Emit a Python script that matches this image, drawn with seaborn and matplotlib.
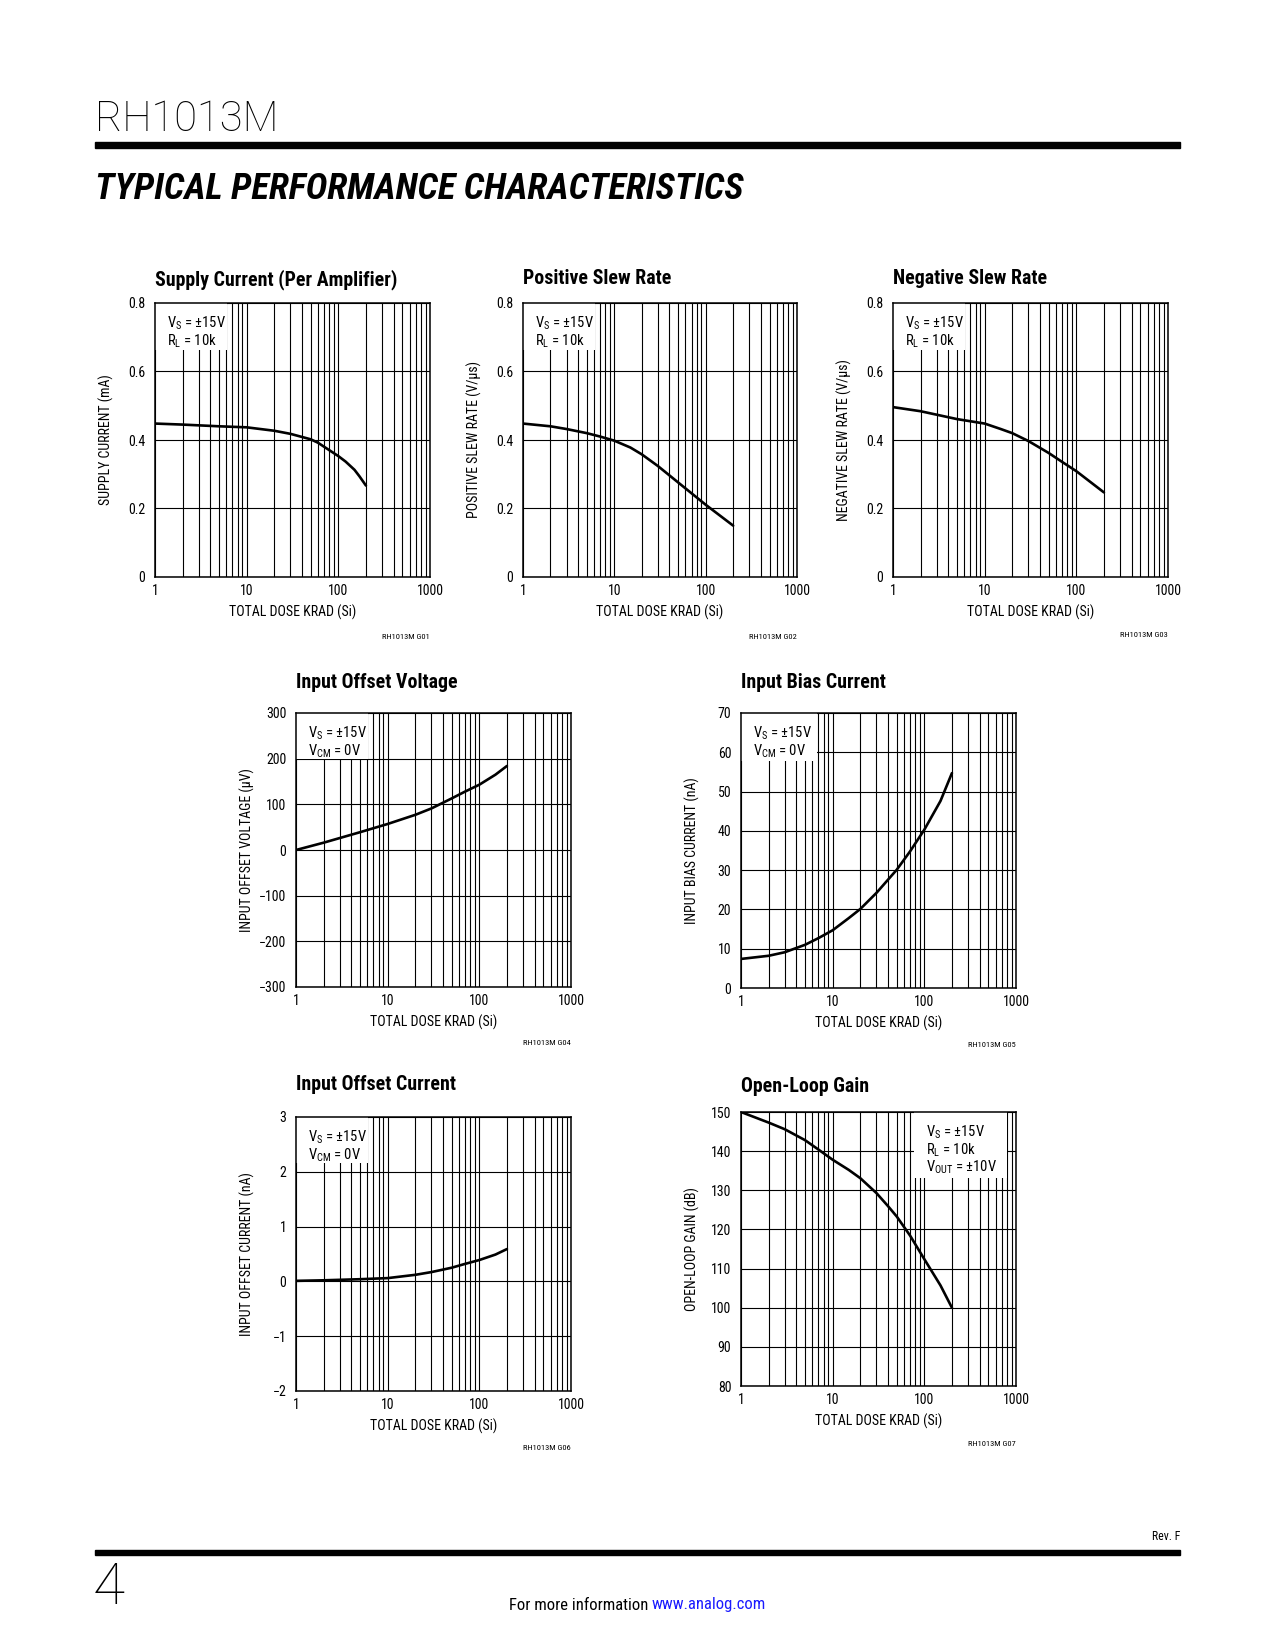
import matplotlib
matplotlib.use("Agg")
import matplotlib.pyplot as plt
from matplotlib import font_manager as fm
from matplotlib.patches import Rectangle
from matplotlib.ticker import LogLocator, NullFormatter
import seaborn as sns

W, H = 1275, 1650

# supply current (per amplifier), mA
dose_isup = [1, 2, 5, 10, 20, 30, 40, 50, 60, 80, 100, 120, 150, 170, 200]
isup = [0.448, 0.445, 0.440, 0.437, 0.427, 0.418, 0.409, 0.402, 0.392, 0.370, 0.353,
        0.337, 0.313, 0.294, 0.267]

# positive slew rate, V/us
dose_psr = [1, 2, 3, 5, 7, 10, 15, 20, 30, 50, 100, 200]
psr = [0.448, 0.440, 0.432, 0.420, 0.410, 0.398, 0.378, 0.358, 0.324, 0.276, 0.211, 0.150]

# negative slew rate, V/us
dose_nsr = [1, 2, 5, 10, 15, 20, 30, 50, 70, 100, 200]
nsr = [0.496, 0.484, 0.461, 0.448, 0.432, 0.420, 0.397, 0.362, 0.336, 0.309, 0.247]

# input offset voltage, uV
dose_vos = [1, 2, 5, 10, 20, 30, 50, 70, 100, 150, 200]
vos = [0, 16, 39, 57, 77, 91, 113, 128, 143, 165, 184]

# input bias current, nA
dose_ib = [1, 2, 3, 5, 7, 10, 15, 20, 30, 50, 70, 100, 150, 200]
ib = [7.4, 8.2, 9.1, 11.0, 12.7, 14.7, 17.8, 20.1, 24.2, 30.1, 34.8, 40.3, 47.6, 54.7]

# input offset current, nA
dose_ios = [1, 2, 5, 10, 20, 30, 50, 70, 100, 150, 200]
ios = [0.01, 0.02, 0.04, 0.06, 0.12, 0.17, 0.25, 0.32, 0.39, 0.49, 0.59]

# open-loop gain, dB
dose_aol = [1, 2, 3, 5, 7, 10, 15, 20, 30, 40, 50, 70, 100, 150, 200]
aol = [150, 147.3, 145.6, 142.8, 140.4, 137.8, 135.2, 133.1, 129.3, 126.0, 123.3, 118.4,
       112.4, 105.7, 100]

sns.set_style("white")
installed = {f.name for f in fm.fontManager.ttflist}


def pick(*names):
    for n in names:
        if n in installed:
            return n
    return "DejaVu Sans"


narrow = pick("Liberation Sans Narrow", "Roboto Condensed", "Archivo Narrow",
              "PT Sans Narrow", "Liberation Sans")
light = pick("Roboto", "Lato")
plt.rcParams["font.family"] = [narrow, "DejaVu Sans"]
plt.rcParams["mathtext.fontset"] = "custom"
plt.rcParams["mathtext.rm"] = narrow
plt.rcParams["mathtext.it"] = narrow
plt.rcParams["text.color"] = "black"
plt.rcParams["axes.labelcolor"] = "black"
plt.rcParams["xtick.color"] = "black"
plt.rcParams["ytick.color"] = "black"

fig = plt.figure(figsize=(W / 100, H / 100), dpi=100)

VS = r"V$_{\rm S}$ = ±15V"
RL = r"R$_{\rm L}$ = 10k"
VCM = r"V$_{\rm CM}$ = 0V"
VOUT = r"V$_{\rm OUT}$ = ±10V"


def chart(box, title, title_y, ylabel, ylim, yticks, ylabels, x, y, note, fig_id, id_y,
          note_box=(0, 72, 0, 47)):
    l, t, r, b = box
    w, h = r - l, b - t
    ax = fig.add_axes([l / W, 1 - b / H, w / W, h / H])
    sns.lineplot(x=x, y=y, ax=ax, color="black", linewidth=1.9)
    ax.set_xscale("log")
    ax.set_xlim(1, 1000)
    ax.set_ylim(*ylim)
    ax.set_xticks([1, 10, 100, 1000], ["1", "10", "100", "1000"])
    ax.xaxis.set_minor_locator(LogLocator(base=10, subs=range(2, 10)))
    ax.xaxis.set_minor_formatter(NullFormatter())
    ax.set_yticks(yticks, ylabels)
    ax.set_axisbelow(True)
    ax.grid(True, which="both", axis="x", color="black", linewidth=0.8)
    ax.grid(True, which="major", axis="y", color="black", linewidth=0.8)
    ax.tick_params(which="both", length=0, labelsize=10)
    ax.tick_params(axis="x", pad=5)
    ax.tick_params(axis="y", pad=7)
    for s in ax.spines.values():
        s.set_color("black")
        s.set_linewidth(1.1)
    ax.set_xlabel("TOTAL DOSE KRAD (Si)", fontsize=10)
    ax.set_ylabel(ylabel, fontsize=10)
    ax.xaxis.set_label_coords(0.5, -28 / h)
    ax.yaxis.set_label_coords(-41 / w, 0.5)
    # white panel behind the conditions text, hiding the grid there
    bx0, bx1, by0, by1 = note_box
    ax.add_patch(Rectangle((bx0 / w, 1 - by1 / h), (bx1 - bx0) / w, (by1 - by0) / h,
                           transform=ax.transAxes, facecolor="white", edgecolor="none",
                           zorder=1))
    ax.text((bx0 + 12) / w, 1 - 12 / h, note, transform=ax.transAxes, ha="left", va="top",
            fontsize=10.5, linespacing=0.98, zorder=3)
    fig.text(l / W, 1 - title_y / H, title, ha="left", va="center",
             fontsize=14.3, fontweight="bold")
    fig.text(r / W, 1 - id_y / H, fig_id, ha="right", va="center", fontsize=6)
    return ax


chart((155, 303, 430, 577), "Supply Current (Per Amplifier)", 280, "SUPPLY CURRENT (mA)",
      (0, 0.8), [0, 0.2, 0.4, 0.6, 0.8], ["0", "0.2", "0.4", "0.6", "0.8"],
      dose_isup, isup, VS + "\n" + RL, "RH1013M G01", 637)
chart((523, 303, 797, 577), "Positive Slew Rate", 278, "POSITIVE SLEW RATE (V/μs)",
      (0, 0.8), [0, 0.2, 0.4, 0.6, 0.8], ["0", "0.2", "0.4", "0.6", "0.8"],
      dose_psr, psr, VS + "\n" + RL, "RH1013M G02", 637)
chart((893, 303, 1168, 577), "Negative Slew Rate", 278, "NEGATIVE SLEW RATE (V/μs)",
      (0, 0.8), [0, 0.2, 0.4, 0.6, 0.8], ["0", "0.2", "0.4", "0.6", "0.8"],
      dose_nsr, nsr, VS + "\n" + RL, "RH1013M G03", 635)
chart((296, 713, 571, 987), "Input Offset Voltage", 683, "INPUT OFFSET VOLTAGE (μV)",
      (-300, 300), [-300, -200, -100, 0, 100, 200, 300],
      ["−300", "−200", "−100", "0", "100", "200", "300"],
      dose_vos, vos, VS + "\n" + VCM, "RH1013M G04", 1043, note_box=(0, 72, 0, 46))
chart((741, 713, 1016, 988), "Input Bias Current", 683, "INPUT BIAS CURRENT (nA)",
      (0, 70), [0, 10, 20, 30, 40, 50, 60, 70],
      ["0", "10", "20", "30", "40", "50", "60", "70"],
      dose_ib, ib, VS + "\n" + VCM, "RH1013M G05", 1045, note_box=(0, 76, 0, 48))
chart((296, 1117, 571, 1391), "Input Offset Current", 1085, "INPUT OFFSET CURRENT (nA)",
      (-2, 3), [-2, -1, 0, 1, 2, 3], ["−2", "−1", "0", "1", "2", "3"],
      dose_ios, ios, VS + "\n" + VCM, "RH1013M G06", 1448, note_box=(0, 72, 0, 46))
chart((741, 1112, 1016, 1386), "Open-Loop Gain", 1087, "OPEN-LOOP GAIN (dB)",
      (80, 150), [80, 90, 100, 110, 120, 130, 140, 150],
      ["80", "90", "100", "110", "120", "130", "140", "150"],
      dose_aol, aol, VS + "\n" + RL + "\n" + VOUT, "RH1013M G07", 1444,
      note_box=(173, 266, 0, 66))

# page furniture
fig.text(95 / W, 1 - 119 / H, "RH1013M", ha="left", va="center", fontsize=30,
         family=[light, "DejaVu Sans"], fontweight="light")
fig.add_artist(plt.Rectangle((95 / W, 1 - 148 / H), (1180 - 95) / W, 6 / H,
                             transform=fig.transFigure, color="black"))
head = fig.text(95 / W, 1 - 189 / H, "TYPICAL PERFORMANCE CHARACTERISTICS", ha="left",
                va="center", fontsize=28, fontweight="heavy", fontstyle="italic")
# fit the section heading to its printed width
rend = fig.canvas.get_renderer()
wpx = head.get_window_extent(rend).width
head.set_fontsize(28 * (744 - 95) / wpx)
fig.text(1180 / W, 1 - 1537 / H, "Rev. F", ha="right", va="center", fontsize=8.5)
fig.add_artist(plt.Rectangle((95 / W, 1 - 1555 / H), (1180 - 95) / W, 5 / H,
                             transform=fig.transFigure, color="black"))
fig.text(93 / W, 1 - 1588 / H, "4", ha="left", va="center", fontsize=42,
         family=[light, "DejaVu Sans"], fontweight="light")
fig.text(648 / W, 1 - 1605 / H, "For more information", ha="right", va="center",
         fontsize=12)
fig.text(652 / W, 1 - 1605 / H, "www.analog.com", ha="left", va="center",
         fontsize=12, color="#1a1aff")

fig.savefig("out.png", dpi=100, facecolor="white")
